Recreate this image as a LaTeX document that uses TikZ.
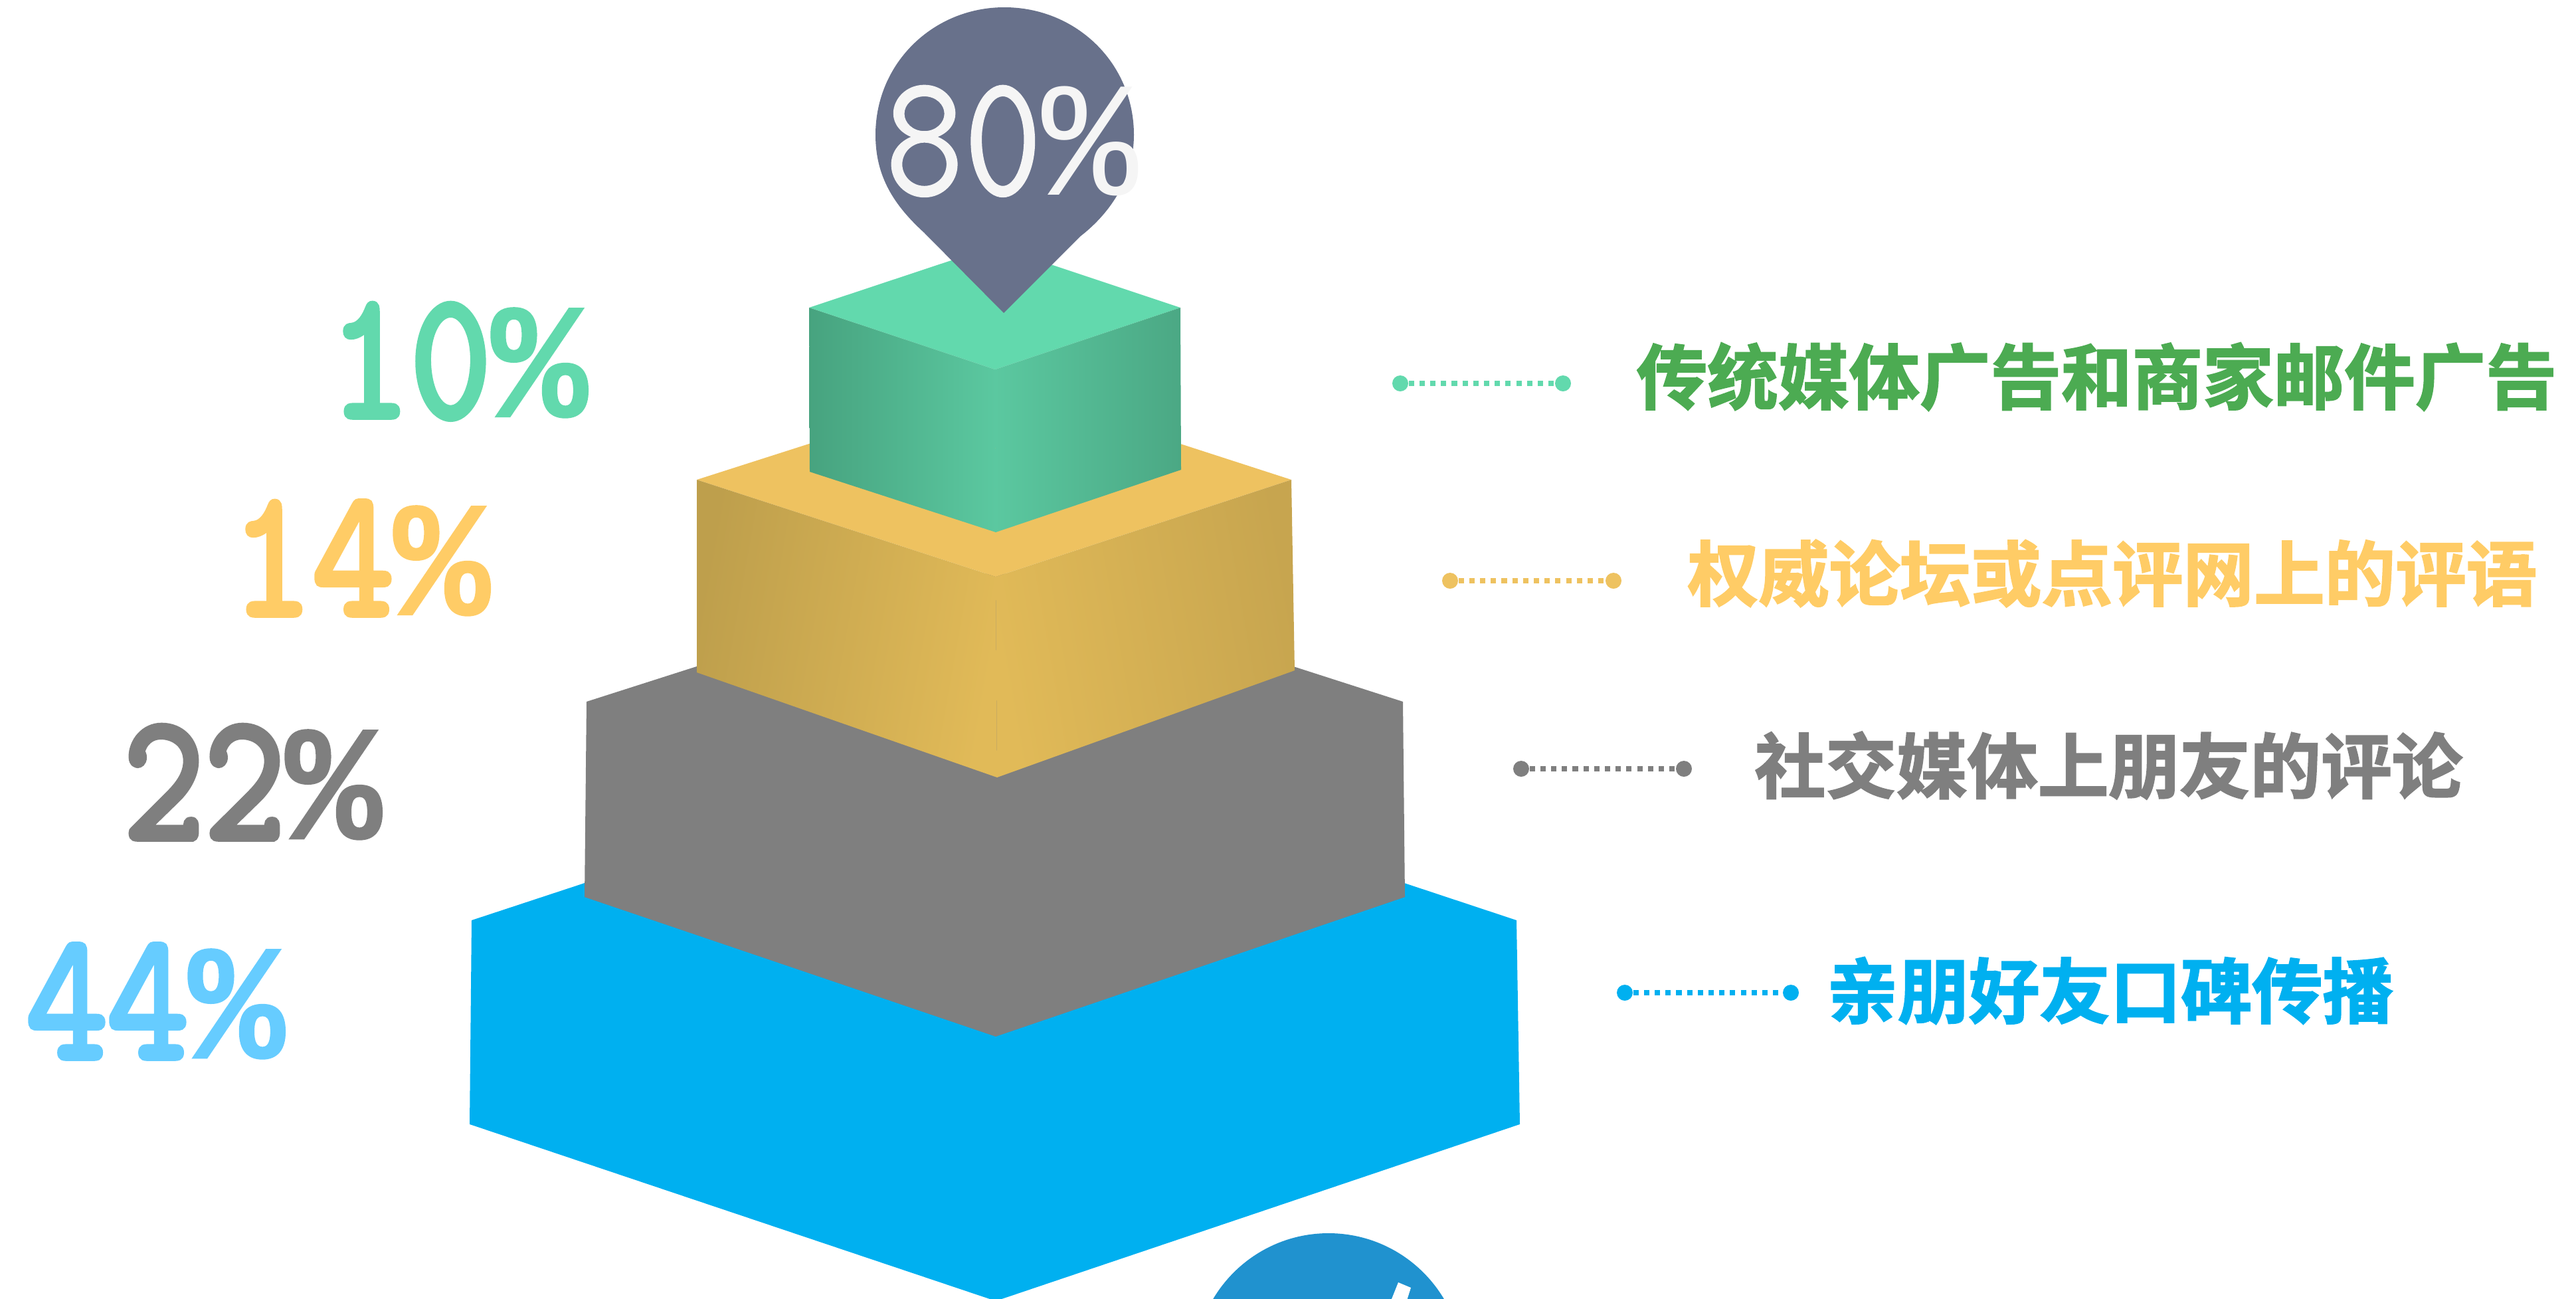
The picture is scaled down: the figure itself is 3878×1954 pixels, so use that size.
\documentclass[tikz,border=0pt]{standalone}
\usepackage{fontspec}
\newfontfamily\cjkh[FakeBold=2]{Noto Sans CJK SC Bold}
\newfontfamily\numh[FakeBold=3.5]{Latin Modern Mono}
\newfontfamily\numl[FakeBold=0.8]{Latin Modern Mono}
\newfontfamily\pch[FakeBold=1]{Liberation Mono Bold}
\newfontfamily\pcl{Liberation Mono}
\newcommand{\heavypc}{{\pch\fontsize{70pt}{70pt}\selectfont\scalebox{1.13}[1]{\%}}}
\newcommand{\lightpc}{{\pcl\fontsize{70pt}{70pt}\selectfont\scalebox{1.13}[1]{\%}}}
\definecolor{cgreen}{HTML}{62D9AD}
\definecolor{cgreenE}{HTML}{47A37F}
\definecolor{cgreenF}{HTML}{4BA884}
\definecolor{cgreenC}{HTML}{5BC8A0}
\definecolor{cyel}{HTML}{EEC260}
\definecolor{cyelE}{HTML}{BE9F4C}
\definecolor{cyelF}{HTML}{C7A54F}
\definecolor{cyelC}{HTML}{E1BA58}
\definecolor{cgray}{HTML}{7F7F7F}
\definecolor{cblue}{HTML}{00B0F0}
\definecolor{cpin}{HTML}{68718B}
\definecolor{tgreen}{HTML}{4CAB52}
\definecolor{tyel}{HTML}{FFCC66}
\definecolor{tblue}{HTML}{66CCFF}
\definecolor{cball}{HTML}{2092CF}
\tikzset{
  cjklabel/.style={inner sep=0pt,anchor=west,font={\cjkh\fontsize{30.3pt}{30.3pt}\selectfont}},
  pct/.style={inner sep=0pt,anchor=base west,xscale=0.87,font={\numh\fontsize{77.4pt}{77.4pt}\selectfont}},
  dotend/.style={circle,inner sep=0pt,minimum size=24*0.2845pt},
  leader/.style={line width=2.3pt,dash pattern=on 2.3pt off 2.3pt},
}
\begin{document}
\begin{tikzpicture}[x=0.01cm,y=-0.01cm]
\useasboundingbox (0,0) rectangle (3878,1954);
% tiers
\fill[cblue] (710,1385) -- (1499,1125) -- (2283,1385) -- (2288,1692) -- (1499,1958) -- (707,1692) -- cycle;
\fill[cgray] (883,1056) -- (1499,859) -- (2112,1056) -- (2115,1350) -- (1499,1560) -- (880,1350) -- cycle;
\fill[cyel] (1049,722) -- (1499,578) -- (1944,722) -- (1499,868) -- cycle;
\shade[left color=cyelE,right color=cyelC,shading angle=80] (1049,722) -- (1499,868) -- (1501,1170) -- (1049,1012) -- cycle;
\shade[left color=cyelC,right color=cyelF,shading angle=100] (1499,868) -- (1944,722) -- (1949,1009) -- (1501,1170) -- cycle;
\fill[cgreen] (1218,463) -- (1498,370) -- (1777,463) -- (1498,556) -- cycle;
\shade[left color=cgreenE,right color=cgreenC] (1218,463) -- (1498,556) -- (1499,801) -- (1219,710) -- cycle;
\shade[left color=cgreenC,right color=cgreenF] (1498,556) -- (1777,463) -- (1778,707) -- (1499,801) -- cycle;
% pin
\fill[cpin] (1511,471) -- (1391,350) .. controls (1345,308) and (1318,265) .. (1318,203)
  .. controls (1318,95) and (1405,11) .. (1512,11)
  .. controls (1620,11) and (1707,95) .. (1707,203)
  .. controls (1707,265) and (1675,318) .. (1626,356) -- cycle;
\node[inner sep=0pt,anchor=base west,text=white!96!black,xscale=0.87,font={\numl\fontsize{75pt}{75pt}\selectfont}] (p80) at (1332,293) {80\lightpc};
% bottom ball
\begin{scope}
\clip (0,0) rectangle (3878,1954);
\fill[cball] (2000,2058) circle[radius=202];
\fill[white] (2105,1930) -- (2124,1938) -- (2117,1960) -- (2093,1960) -- cycle;
\end{scope}
% percentages
\node[pct,text=cgreen] (p10) at (495,627) {10\heavypc};
\node[pct,text=tyel] (p14) at (348,925) {14\heavypc};
\node[pct,text=cgray] (p22) at (185,1262) {22\heavypc};
\node[pct,text=tblue] (p44) at (39,1592) {44\heavypc};
% leaders
\node[dotend,fill=cgreen] (a1) at (2108,577) {};
\node[dotend,fill=cgreen] (a2) at (2353,577) {};
\draw[leader,draw=cgreen] (a1) -- (a2);
\node[dotend,fill=cyel] (b1) at (2183,874) {};
\node[dotend,fill=cyel] (b2) at (2429,874) {};
\draw[leader,draw=cyel] (b1) -- (b2);
\node[dotend,fill=cgray] (c1) at (2290,1157) {};
\node[dotend,fill=cgray] (c2) at (2535,1157) {};
\draw[leader,draw=cgray] (c1) -- (c2);
\node[dotend,fill=cblue] (d1) at (2446,1494) {};
\node[dotend,fill=cblue] (d2) at (2696,1494) {};
\draw[leader,draw=cblue] (d1) -- (d2);
% labels
\node[cjklabel,text=tgreen] (t1) at (2463,567) {传统媒体广告和商家邮件广告};
\node[cjklabel,text=tyel] (t2) at (2540,863) {权威论坛或点评网上的评语};
\node[cjklabel,text=cgray] (t3) at (2641,1152) {社交媒体上朋友的评论};
\node[cjklabel,text=cblue] (t4) at (2750,1491) {亲朋好友口碑传播};
\end{tikzpicture}
\end{document}
